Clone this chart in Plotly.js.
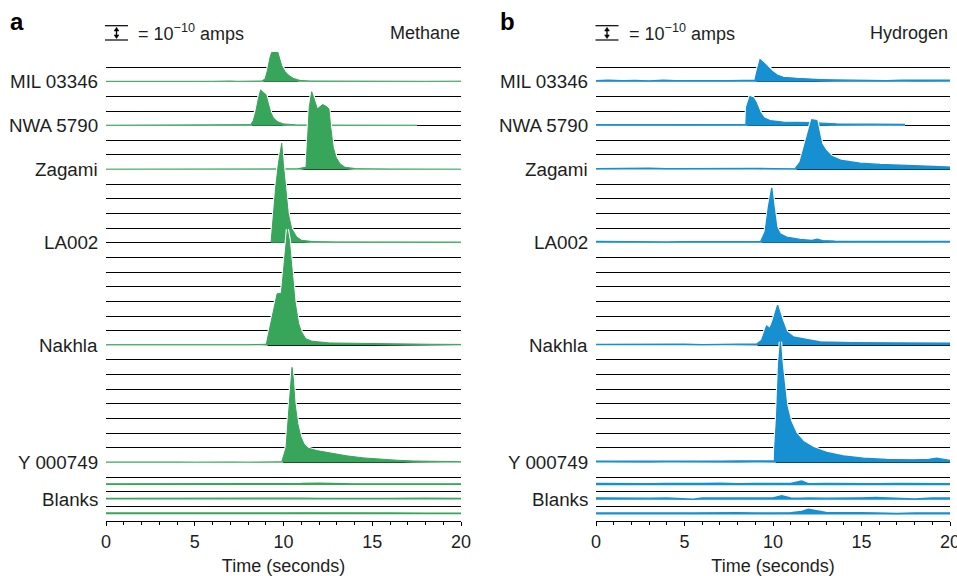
<!DOCTYPE html>
<html>
<head>
<meta charset="utf-8">
<script src="https://cdn.plot.ly/plotly-3.0.1.min.js"></script>
<style>html,body{margin:0;padding:0;background:#fff;}#chart{width:957px;height:576px;}</style>
</head>
<body>
<div id="chart"></div>
<script>
// ---------- labels & baselines (units of 1e-10 A) ----------
const sampleNames = ['MIL 03346', 'NWA 5790', 'Zagami', 'LA002', 'Nakhla', 'Y 000749'];
const sampleBaselines = [30, 27, 24, 19, 12, 4];
const blankLabel = 'Blanks';
const blankBaselines = [2.5, 1.5, 0.5];
const xTickStep = 5;

// ---------- Panel a : Methane (time s, signal in 1e-10 A above baseline) ----------
const ch4_MIL_t = [0, 1, 2, 3, 4, 5, 6, 6.6, 7, 7.4, 8, 8.5, 8.77, 8.96, 9.09, 9.24, 9.33, 9.5, 9.65, 9.71, 9.8, 9.9, 10.08, 10.27, 10.55, 10.93, 11.5, 12.5, 14, 16, 18, 20];
const ch4_MIL_v = [0.03, 0.02, 0.04, 0.03, 0.02, 0.03, 0.03, 0.07, 0.05, 0.03, 0.03, 0.04, 0.05, 0.19, 0.75, 1.66, 2.0, 2.3, 2.1, 1.89, 1.43, 1.09, 0.71, 0.46, 0.23, 0.09, 0.05, 0.04, 0.03, 0.03, 0.03, 0.04];
const ch4_NWA_t = [0, 1.5, 3, 4.5, 6, 7.5, 8.15, 8.3, 8.45, 8.58, 8.71, 8.86, 9.01, 9.15, 9.28, 9.43, 9.65, 9.99, 10.74, 12, 14, 16, 17.5];
const ch4_NWA_v = [0.03, 0.03, 0.04, 0.03, 0.03, 0.04, 0.07, 0.35, 1.03, 1.82, 2.44, 2.27, 2.12, 1.48, 0.91, 0.53, 0.28, 0.12, 0.05, 0.04, 0.03, 0.03, 0.03];
const ch4_ZAG_t = [0, 2, 4, 6, 8, 9.5, 10.74, 11.27, 11.33, 11.45, 11.59, 11.72, 11.91, 12.06, 12.21, 12.43, 12.56, 12.66, 12.8, 12.96, 13.18, 13.46, 14.12, 16, 18, 20];
const ch4_ZAG_v = [0.03, 0.03, 0.03, 0.03, 0.03, 0.03, 0.05, 0.16, 1.5, 4.25, 5.32, 4.82, 4.14, 4.3, 4.44, 4.3, 4.14, 2.89, 1.53, 0.85, 0.4, 0.16, 0.06, 0.04, 0.03, 0.03];
const ch4_LA_t = [9.3, 9.43, 9.56, 9.71, 9.9, 9.99, 10.18, 10.27, 10.46, 10.74, 11.02, 11.68, 13, 15, 17, 19, 20];
const ch4_LA_v = [0.05, 1.99, 3.8, 5.4, 6.8, 5.4, 3.01, 1.99, 0.97, 0.4, 0.17, 0.08, 0.06, 0.05, 0.05, 0.05, 0.05];
const ch4_NAK_t = [0, 2, 4, 6, 8, 9.03, 9.24, 9.46, 9.64, 9.88, 10.0, 10.1, 10.22, 10.33, 10.46, 10.65, 10.85, 11.0, 11.25, 11.6, 12.6, 14.5, 16.4, 18.3, 20];
const ch4_NAK_v = [0.04, 0.03, 0.04, 0.03, 0.04, 0.07, 1.26, 2.62, 3.52, 3.56, 5.1, 6.6, 7.92, 7.17, 5.5, 3.0, 1.5, 0.95, 0.45, 0.28, 0.16, 0.12, 0.1, 0.07, 0.06];
const ch4_Y_t = [0, 1, 2, 3, 4, 5, 6, 7, 8, 9, 9.43, 9.9, 10.14, 10.25, 10.37, 10.48, 10.56, 10.65, 10.8, 10.97, 11.15, 11.4, 11.87, 12.62, 13.56, 14.5, 15.44, 16.38, 17.31, 18.25, 19.2, 20];
const ch4_Y_v = [0.03, 0.04, 0.02, 0.04, 0.03, 0.02, 0.04, 0.03, 0.02, 0.03, 0.03, 0.04, 1.0, 2.9, 4.8, 6.49, 5.63, 4.04, 2.68, 1.77, 1.27, 0.97, 0.81, 0.63, 0.45, 0.31, 0.22, 0.15, 0.1, 0.07, 0.05, 0.05];
const ch4_blank_t = [0, 2, 4, 6, 8, 10, 11, 12, 13, 14, 16, 18, 20];
const ch4_blank1_v = [0.08, 0.08, 0.07, 0.08, 0.08, 0.08, 0.1, 0.13, 0.09, 0.08, 0.08, 0.07, 0.08];
const ch4_blank2_v = [0.09, 0.1, 0.08, 0.08, 0.09, 0.09, 0.1, 0.09, 0.08, 0.09, 0.09, 0.1, 0.09];
const ch4_blank3_v = [0.09, 0.08, 0.1, 0.08, 0.08, 0.09, 0.1, 0.09, 0.08, 0.08, 0.09, 0.08, 0.08];

// ---------- Panel b : Hydrogen ----------
const h2_MIL_t = [0, 0.7, 1.5, 2.2, 3, 3.8, 4.5, 5.3, 6, 6.8, 7.5, 8.3, 8.98, 9.08, 9.27, 9.45, 9.74, 10.02, 10.24, 10.58, 11.34, 12, 12.66, 13.5, 14.54, 15.5, 16.4, 17.3, 18.2, 19.1, 20];
const h2_MIL_v = [0.08, 0.1, 0.07, 0.09, 0.06, 0.1, 0.08, 0.07, 0.1, 0.08, 0.07, 0.09, 0.09, 0.64, 1.5, 1.32, 0.98, 0.64, 0.46, 0.3, 0.23, 0.18, 0.15, 0.12, 0.1, 0.12, 0.08, 0.1, 0.11, 0.09, 0.1];
const h2_NWA_t = [0, 1, 2, 3, 4, 5, 6, 7, 8, 8.47, 8.51, 8.7, 8.89, 9.04, 9.27, 9.49, 9.83, 10.58, 12.09, 13.6, 15.5, 17.46];
const h2_NWA_v = [0.07, 0.08, 0.06, 0.1, 0.07, 0.06, 0.08, 0.07, 0.09, 0.08, 1.25, 1.98, 1.89, 1.59, 0.91, 0.53, 0.35, 0.24, 0.2, 0.12, 0.1, 0.08];
const h2_ZAG_t = [0, 1, 2, 3, 4, 5, 6, 7, 8, 9, 10, 10.8, 11.24, 11.53, 11.87, 12.0, 12.19, 12.47, 12.6, 12.75, 12.99, 13.32, 13.88, 14.92, 16.05, 17.55, 19.06, 20];
const h2_ZAG_v = [0.06, 0.08, 0.07, 0.1, 0.07, 0.08, 0.06, 0.08, 0.07, 0.08, 0.07, 0.06, 0.05, 0.5, 1.98, 2.6, 3.41, 3.35, 2.66, 1.76, 1.3, 0.9, 0.62, 0.44, 0.35, 0.26, 0.22, 0.17];
const h2_LA_t = [0, 1, 2, 3, 4, 5, 6, 7, 8, 9, 9.3, 9.55, 9.74, 9.93, 10.06, 10.21, 10.4, 10.77, 11.53, 12.2, 12.5, 12.8, 13.5, 14.5, 15.5, 16.8, 18, 19, 20];
const h2_LA_v = [0.1, 0.08, 0.07, 0.09, 0.06, 0.08, 0.07, 0.08, 0.1, 0.08, 0.09, 0.73, 2.44, 3.76, 2.44, 1.08, 0.62, 0.39, 0.23, 0.17, 0.25, 0.15, 0.12, 0.12, 0.14, 0.13, 0.1, 0.1, 0.1];
const h2_NAK_t = [0, 1, 2, 3, 4, 5, 6, 7, 8, 9.08, 9.36, 9.64, 9.83, 9.98, 10.26, 10.49, 10.77, 11.15, 11.9, 12.66, 14.5, 16, 17.4, 18.5, 20];
const h2_NAK_v = [0.06, 0.07, 0.05, 0.08, 0.06, 0.07, 0.05, 0.07, 0.08, 0.09, 0.35, 1.31, 1.15, 1.6, 2.74, 1.83, 0.92, 0.58, 0.4, 0.24, 0.18, 0.16, 0.14, 0.15, 0.14];
const h2_Y_t = [0, 1, 2, 3, 4, 5, 6, 7, 8, 9, 10.08, 10.11, 10.2, 10.32, 10.42, 10.51, 10.62, 10.77, 11.0, 11.3, 11.71, 12.28, 13.03, 13.97, 15.1, 16.42, 17.9, 18.8, 19.25, 19.7, 20];
const h2_Y_v = [0.08, 0.1, 0.07, 0.09, 0.08, 0.1, 0.07, 0.09, 0.1, 0.08, 0.1, 1.2, 3.0, 6.77, 8.24, 6.77, 5.4, 3.92, 2.79, 2.0, 1.43, 1.02, 0.68, 0.45, 0.29, 0.2, 0.18, 0.2, 0.29, 0.22, 0.14];
const h2_blank_t = [0, 1, 2, 3, 4, 5, 5.5, 6, 7, 8, 9, 10, 10.49, 11, 11.62, 12, 13, 14, 15, 15.8, 17, 18, 19, 20];
const h2_blank1_v = [0.12, 0.1, 0.12, 0.1, 0.12, 0.1, 0.11, 0.12, 0.14, 0.1, 0.12, 0.1, 0.12, 0.11, 0.28, 0.1, 0.12, 0.1, 0.12, 0.1, 0.12, 0.1, 0.12, 0.1];
const h2_blank2_v = [0.13, 0.11, 0.12, 0.11, 0.12, 0.1, 0.04, 0.12, 0.11, 0.12, 0.11, 0.12, 0.28, 0.12, 0.1, 0.12, 0.11, 0.1, 0.13, 0.16, 0.12, 0.05, 0.12, 0.12];
const h2_blank3_v = [0.1, 0.09, 0.12, 0.1, 0.11, 0.1, 0.1, 0.11, 0.09, 0.11, 0.1, 0.1, 0.11, 0.12, 0.2, 0.36, 0.13, 0.1, 0.11, 0.1, 0.06, 0.1, 0.12, 0.1];

const ch4Series = [[ch4_MIL_t, ch4_MIL_v], [ch4_NWA_t, ch4_NWA_v], [ch4_ZAG_t, ch4_ZAG_v], [ch4_LA_t, ch4_LA_v], [ch4_NAK_t, ch4_NAK_v], [ch4_Y_t, ch4_Y_v]];
const ch4Blanks = [ch4_blank1_v, ch4_blank2_v, ch4_blank3_v];
const h2Series = [[h2_MIL_t, h2_MIL_v], [h2_NWA_t, h2_NWA_v], [h2_ZAG_t, h2_ZAG_v], [h2_LA_t, h2_LA_v], [h2_NAK_t, h2_NAK_v], [h2_Y_t, h2_Y_v]];
const h2Blanks = [h2_blank1_v, h2_blank2_v, h2_blank3_v];

const GREEN = '#37a55a';
const BLUE = '#1690d1';
const TEXT = '#1e1e1e';
const FONT = 'Liberation Sans, Arial, Helvetica, sans-serif';

const traces = [];
function addSeries(t, v, base, color, xa, ya, lw, outline) {
  const y = v.map(d => base + d);
  if (outline) {
    traces.push({x: t, y: y, xaxis: xa, yaxis: ya, mode: 'lines', line: {color: '#ffffff', width: lw + 2.2}, hoverinfo: 'skip', showlegend: false});
  }
  traces.push({x: t, y: t.map(() => base), xaxis: xa, yaxis: ya, mode: 'lines', line: {color: 'rgba(0,0,0,0)', width: 0}, hoverinfo: 'skip', showlegend: false});
  traces.push({x: t, y: y, xaxis: xa, yaxis: ya, mode: 'lines', fill: 'tonexty', fillcolor: color, line: {color: color, width: lw}, hoverinfo: 'skip', showlegend: false});
}
ch4Series.forEach((s, i) => addSeries(s[0], s[1], sampleBaselines[i], GREEN, 'x', 'y', 1, true));
ch4Blanks.forEach((v, i) => addSeries(ch4_blank_t, v, blankBaselines[i] - 0.04, GREEN, 'x', 'y', 1.3, false));
h2Series.forEach((s, i) => addSeries(s[0], s[1], sampleBaselines[i], BLUE, 'x2', 'y2', 1.3, true));
h2Blanks.forEach((v, i) => addSeries(h2_blank_t, v, blankBaselines[i] - 0.05, BLUE, 'x2', 'y2', 1.4, false));

const W = 957, H = 576, MT = 52, MB = 55;
const PH = H - MT - MB;
const px2x = px => px / W;
const px2y = py => (H - MB - py) / PH;

const xaxisBase = {
  range: [0, 20], showgrid: false, zeroline: false, showline: true, linecolor: '#000', linewidth: 1,
  ticks: 'outside', ticklen: 4, tickwidth: 1, tickcolor: '#000', dtick: xTickStep, tick0: 0,
  ticklabeloverflow: 'allow',
  minor: {dtick: 1, tick0: 0, ticks: 'outside', ticklen: 2.5, tickcolor: '#000', tickwidth: 1, showgrid: false},
  tickfont: {family: FONT, size: 18, color: TEXT},
  title: {text: 'Time (seconds)', font: {family: FONT, size: 18, color: TEXT}, standoff: 13},
  fixedrange: true
};
const yaxisBase = {
  range: [0, 32.03], showgrid: true, gridcolor: '#000', gridwidth: 1, dtick: 1, tick0: 0,
  zeroline: false, showline: false, showticklabels: false, ticks: '', fixedrange: true
};

const annotations = [];
function labelPanel(xref, yref) {
  sampleNames.forEach((n, i) => annotations.push({xref: xref + ' domain', yref: yref, x: 0, y: sampleBaselines[i], text: n, showarrow: false, xanchor: 'right', yanchor: 'middle', xshift: -6, font: {family: FONT, size: 18.8, color: TEXT}}));
  annotations.push({xref: xref + ' domain', yref: yref, x: 0, y: blankBaselines[1], text: blankLabel, showarrow: false, xanchor: 'right', yanchor: 'middle', xshift: -6, font: {family: FONT, size: 18.8, color: TEXT}});
}
labelPanel('x', 'y');
labelPanel('x2', 'y2');

const shapes = [];
function scaleBar(left, gasName, letter, letterX, rightPx) {
  [25.7, 40].forEach(py => shapes.push({type: 'line', xref: 'paper', yref: 'paper', x0: px2x(left), x1: px2x(left + 23), y0: px2y(py), y1: px2y(py), line: {color: '#000', width: 1.2}}));
  const ax = px2x(left + 11.5), hw = 2.4 / W;
  const yTop = px2y(27.3), yTopB = px2y(31), yBot = px2y(38.6), yBotB = px2y(34.9);
  shapes.push({type: 'line', xref: 'paper', yref: 'paper', x0: ax, x1: ax, y0: yTopB, y1: yBotB, line: {color: '#000', width: 1.3}});
  shapes.push({type: 'path', xref: 'paper', yref: 'paper',
    path: 'M' + (ax - hw) + ',' + yTopB + ' L' + ax + ',' + yTop + ' L' + (ax + hw) + ',' + yTopB + ' Z M' + (ax - hw) + ',' + yBotB + ' L' + ax + ',' + yBot + ' L' + (ax + hw) + ',' + yBotB + ' Z',
    fillcolor: '#000', line: {color: '#000', width: 0.5}});
  annotations.push({xref: 'paper', yref: 'paper', x: px2x(left + 31), y: px2y(33), text: '= 10<sup>\u221210</sup> amps', showarrow: false, xanchor: 'left', yanchor: 'middle', font: {family: FONT, size: 18, color: TEXT}});
  annotations.push({xref: 'paper', yref: 'paper', x: px2x(rightPx), y: px2y(33), text: gasName, showarrow: false, xanchor: 'right', yanchor: 'middle', font: {family: FONT, size: 18, color: TEXT}});
  annotations.push({xref: 'paper', yref: 'paper', x: px2x(letterX), y: px2y(22), text: '<b>' + letter + '</b>', showarrow: false, xanchor: 'left', yanchor: 'middle', font: {family: FONT, size: 24, color: '#000'}});
}
scaleBar(105, 'Methane', 'a', 8, 462);
scaleBar(595.5, 'Hydrogen', 'b', 498, 950);

const layout = {
  width: W, height: H,
  margin: {l: 0, r: 0, t: MT, b: MB},
  paper_bgcolor: '#fff', plot_bgcolor: '#fff',
  showlegend: false,
  xaxis: Object.assign({}, xaxisBase, {domain: [106 / W, 461 / W], anchor: 'y'}),
  yaxis: Object.assign({}, yaxisBase, {anchor: 'x'}),
  xaxis2: Object.assign({}, xaxisBase, {domain: [596 / W, 950 / W], anchor: 'y2'}),
  yaxis2: Object.assign({}, yaxisBase, {anchor: 'x2'}),
  annotations: annotations,
  shapes: shapes,
  font: {family: FONT, color: TEXT}
};

Plotly.newPlot('chart', traces, layout, {displayModeBar: false, staticPlot: true});
</script>
</body>
</html>
